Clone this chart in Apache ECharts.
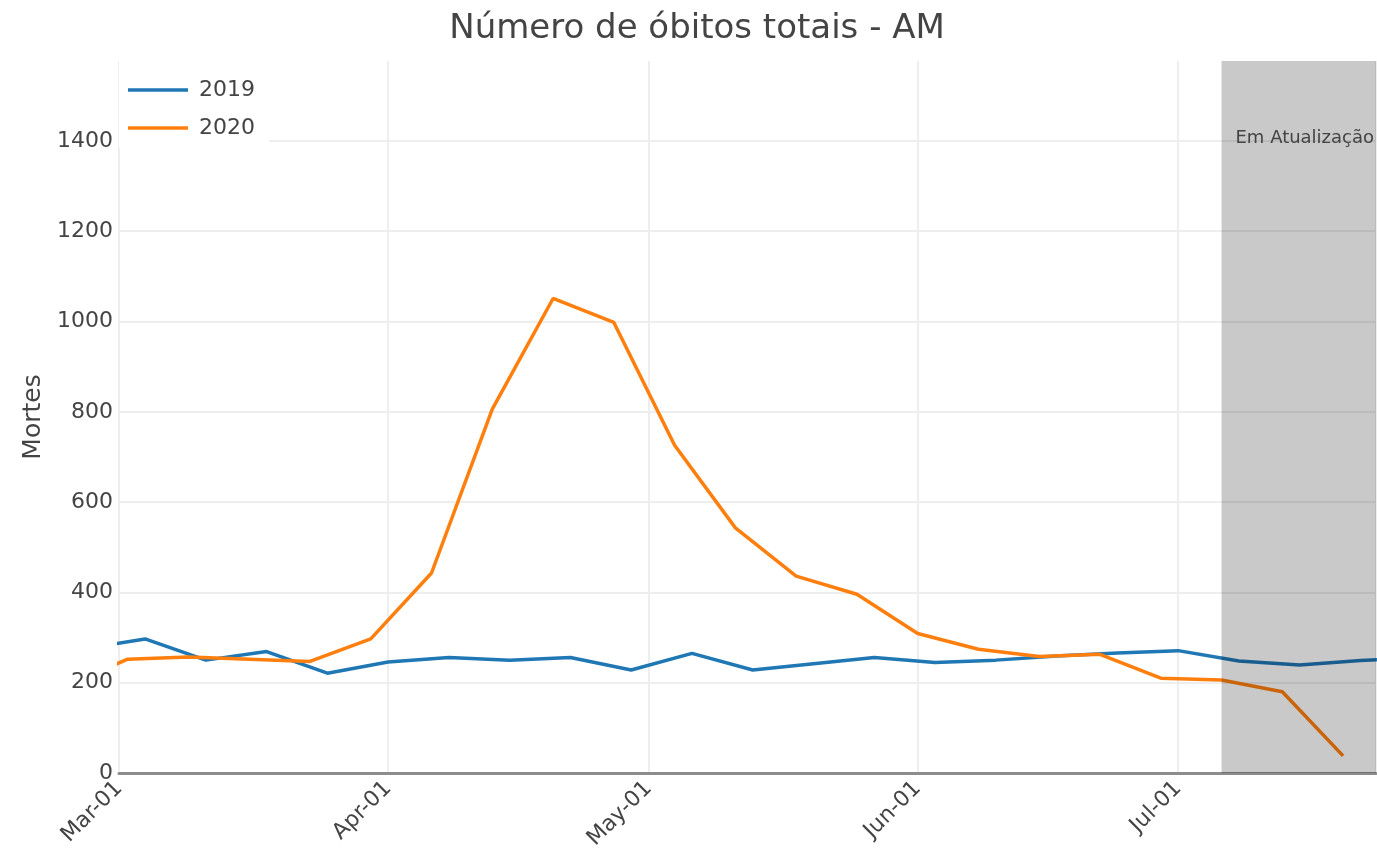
<!DOCTYPE html>
<html lang="pt">

<head>
  <meta charset="UTF-8">
  <title>Número de óbitos totais - AM</title>
  <script src="https://cdn.jsdelivr.net/npm/echarts@6/dist/echarts.min.js"></script>
  <style>
    html, body { margin: 0; padding: 0; background: #fff; }
  </style>
</head>

<body>
  <div id="obitos" style="width:1377px;height:861px;"></div>
</body>

</html>
<script type="text/javascript">
  // datas semanais (2019 alinhado ao calendario de 2020)
  let datas2019 = ['2020-02-26', '2020-03-04', '2020-03-11', '2020-03-18', '2020-03-25', '2020-04-01',
    '2020-04-08', '2020-04-15', '2020-04-22', '2020-04-29', '2020-05-06', '2020-05-13', '2020-05-20',
    '2020-05-27', '2020-06-03', '2020-06-10', '2020-06-17', '2020-06-24', '2020-07-01', '2020-07-08',
    '2020-07-15', '2020-07-22', '2020-07-29'];
  let obitos2019 = [275, 297, 250, 269, 221, 246, 256, 250, 256, 228, 265, 228, 242,
    256, 245, 250, 259, 266, 271, 248, 239, 249, 255];

  let datas2020 = ['2020-02-24', '2020-03-02', '2020-03-09', '2020-03-16', '2020-03-23', '2020-03-30',
    '2020-04-06', '2020-04-13', '2020-04-20', '2020-04-27', '2020-05-04', '2020-05-11', '2020-05-18',
    '2020-05-25', '2020-06-01', '2020-06-08', '2020-06-15', '2020-06-22', '2020-06-29', '2020-07-06',
    '2020-07-13', '2020-07-20'];
  let obitos2020 = [195, 252, 257, 252, 247, 297, 443, 806, 1051, 998, 726, 543, 436,
    396, 309, 274, 258, 263, 210, 206, 180, 38];

  let inicioAtualizacao = '2020-07-06';
  let xMin = '2020-03-01';
  let xMax = '2020-07-23 19:00';
  let meses = ['Jan', 'Feb', 'Mar', 'Apr', 'May', 'Jun', 'Jul', 'Aug', 'Sep', 'Oct', 'Nov', 'Dec'];

  function pares(datas, valores) {
    return datas.map(function (d, i) { return [d, valores[i]]; });
  }

  let fonte = 'DejaVu Sans';
  let obitos = echarts.init(document.getElementById('obitos'));
  let option = {
    animation: false,
    textStyle: { fontFamily: fonte, color: '#444' },
    title: {
      text: 'Número de óbitos totais - AM',
      left: 697,
      top: 12,
      padding: 0,
      textAlign: 'center',
      textStyle: { fontFamily: fonte, fontSize: 34, fontWeight: 'normal', color: '#444' }
    },
    legend: {
      orient: 'vertical',
      left: 119,
      top: 61,
      padding: [17, 14, 8, 9],
      backgroundColor: '#fff',
      icon: 'rect',
      itemWidth: 60,
      itemHeight: 3.5,
      itemGap: 14,
      textStyle: { fontFamily: fonte, fontSize: 22, color: '#444', lineHeight: 24, padding: [0, 0, 0, 6] },
      data: ['2019', '2020']
    },
    grid: {
      left: 119,
      right: 1,
      top: 61,
      bottom: 88
    },
    xAxis: {
      type: 'time',
      min: xMin,
      max: xMax,
      splitNumber: 5,
      axisLine: { show: true, onZero: false, lineStyle: { color: '#8c8c8c', width: 3 } },
      axisTick: { show: false },
      splitLine: { show: true, lineStyle: { color: '#eeeeee', width: 2 } },
      axisLabel: {
        rotate: 45,
        margin: 12,
        fontFamily: fonte,
        fontSize: 22,
        color: '#444',
        fontWeight: 'normal',
        formatter: function (v) {
          let d = new Date(v);
          let dia = d.getDate();
          return meses[d.getMonth()] + '-' + (dia < 10 ? '0' + dia : dia);
        }
      }
    },
    yAxis: {
      type: 'value',
      min: 0,
      max: 1577,
      interval: 200,
      name: 'Mortes',
      nameLocation: 'middle',
      nameGap: 67,
      nameTextStyle: { fontFamily: fonte, fontSize: 25, color: '#444' },
      axisLine: { show: false },
      axisTick: { show: false },
      axisLabel: {
        fontFamily: fonte, fontSize: 22, color: '#444', margin: 6, showMaxLabel: false,
        formatter: function (v) { return String(v); }
      },
      splitLine: { show: true, showMaxLine: false, lineStyle: { color: '#eeeeee', width: 2 } }
    },
    series: [
      {
        name: '2019',
        type: 'line',
        symbol: 'none',
        z: 3,
        lineStyle: { width: 3.5, color: '#1f77b4' },
        itemStyle: { color: '#1f77b4' },
        data: pares(datas2019, obitos2019)
      },
      {
        name: '2020',
        type: 'line',
        symbol: 'none',
        z: 3,
        lineStyle: { width: 3.5, color: '#ff7f0e' },
        itemStyle: { color: '#ff7f0e' },
        data: pares(datas2020, obitos2020)
      },
      {
        name: 'atualizacao',
        type: 'line',
        z: 10,
        silent: true,
        data: [],
        markArea: {
          z: 10,
          silent: true,
          itemStyle: { color: 'rgba(0,0,0,0.21)' },
          label: {
            show: true,
            position: ['50%', 77],
            offset: [6, 0],
            align: 'center',
            verticalAlign: 'middle',
            fontFamily: fonte,
            fontSize: 18,
            color: '#444'
          },
          data: [[{ name: 'Em Atualização', xAxis: inicioAtualizacao }, { xAxis: xMax }]]
        }
      }
    ]
  };
  obitos.setOption(option);
</script>
